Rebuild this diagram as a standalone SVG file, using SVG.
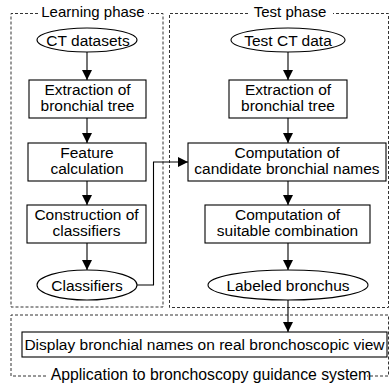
<svg xmlns="http://www.w3.org/2000/svg" width="390" height="386" viewBox="0 0 390 386">
<defs>
<marker id="ah" viewBox="0 0 10 10" refX="10" refY="5" markerWidth="10" markerHeight="10" markerUnits="userSpaceOnUse" orient="auto">
<path d="M0,0 L10,5 L0,10 Z" fill="#000"/>
</marker>
<style>
.frame{fill:none;stroke:#333;stroke-width:1;stroke-dasharray:3,2}
.box{fill:#fff;stroke:#000;stroke-width:1.1}
.t{font-family:"Liberation Sans",Arial,sans-serif;font-size:15.5px;fill:#000;text-anchor:middle}
.title{font-family:"Liberation Sans",Arial,sans-serif;font-size:15px;fill:#000;text-anchor:middle}
.c{fill:none;stroke:#000;stroke-width:1.1;marker-end:url(#ah)}
</style>
</defs>
<rect width="390" height="386" fill="#fff"/>
<g id="frames">
<path class="frame" d="M38,13.5 H11 V307 H163 V13.5 H148"/>
<path class="frame" d="M248,13.5 H169.5 V307.5 H388.5 V13.5 H333"/>
<path class="frame" d="M46,376 H11 V315 H388.5 V376 H367"/>
<text class="title" x="211" y="380" style="font-size:15.8px">Application to bronchoscopy guidance system</text>
<text class="title" x="93" y="17">Learning phase</text>
<text class="title" x="290" y="17">Test phase</text>
</g>
<g id="connectors">
<path class="c" d="M87,52 V80"/>
<path class="c" d="M87,118 V143"/>
<path class="c" d="M87,181 V205"/>
<path class="c" d="M87,243 V270"/>
<path class="c" d="M288,52 V80"/>
<path class="c" d="M288,118 V143"/>
<path class="c" d="M288,181 V205"/>
<path class="c" d="M288,243 V270"/>
<path class="c" d="M288,300 V332"/>
<path class="c" d="M137,285 H153.5 V162 H188"/>
</g>
<g id="ct-datasets">
<ellipse class="box" cx="87" cy="40" rx="50" ry="12"/>
<text class="t" x="88" y="45.5">CT datasets</text>
</g>
<g id="extraction-learning">
<rect class="box" x="29" y="80" width="117" height="38"/>
<text class="t" x="87.5" y="95">Extraction of</text>
<text class="t" x="87.5" y="111">bronchial tree</text>
</g>
<g id="feature-calculation">
<rect class="box" x="28" y="143" width="118" height="38"/>
<text class="t" x="87" y="158">Feature</text>
<text class="t" x="87" y="174">calculation</text>
</g>
<g id="construction">
<rect class="box" x="27" y="205" width="119" height="38"/>
<text class="t" x="86.5" y="220">Construction of</text>
<text class="t" x="86.5" y="236">classifiers</text>
</g>
<g id="classifiers">
<ellipse class="box" cx="87" cy="285" rx="50" ry="15"/>
<text class="t" x="87" y="290.5">Classifiers</text>
</g>
<g id="test-ct-data">
<ellipse class="box" cx="288" cy="40" rx="57" ry="12"/>
<text class="t" x="288" y="45.5">Test CT data</text>
</g>
<g id="extraction-test">
<rect class="box" x="229" y="80" width="118" height="38"/>
<text class="t" x="288" y="95">Extraction of</text>
<text class="t" x="288" y="111">bronchial tree</text>
</g>
<g id="candidate-names">
<rect class="box" x="188" y="143" width="198" height="38"/>
<text class="t" x="287" y="158">Computation of</text>
<text class="t" x="287" y="174">candidate bronchial names</text>
</g>
<g id="suitable-combination">
<rect class="box" x="205" y="205" width="165" height="38"/>
<text class="t" x="287.5" y="220">Computation of</text>
<text class="t" x="287.5" y="236">suitable combination</text>
</g>
<g id="labeled-bronchus">
<ellipse class="box" cx="288" cy="285" rx="80" ry="15"/>
<text class="t" x="288" y="290.5">Labeled bronchus</text>
</g>
<g id="display">
<rect class="box" x="22" y="332" width="365" height="25"/>
<text class="t" x="204.5" y="350">Display bronchial names on real bronchoscopic view</text>
</g>
</svg>
